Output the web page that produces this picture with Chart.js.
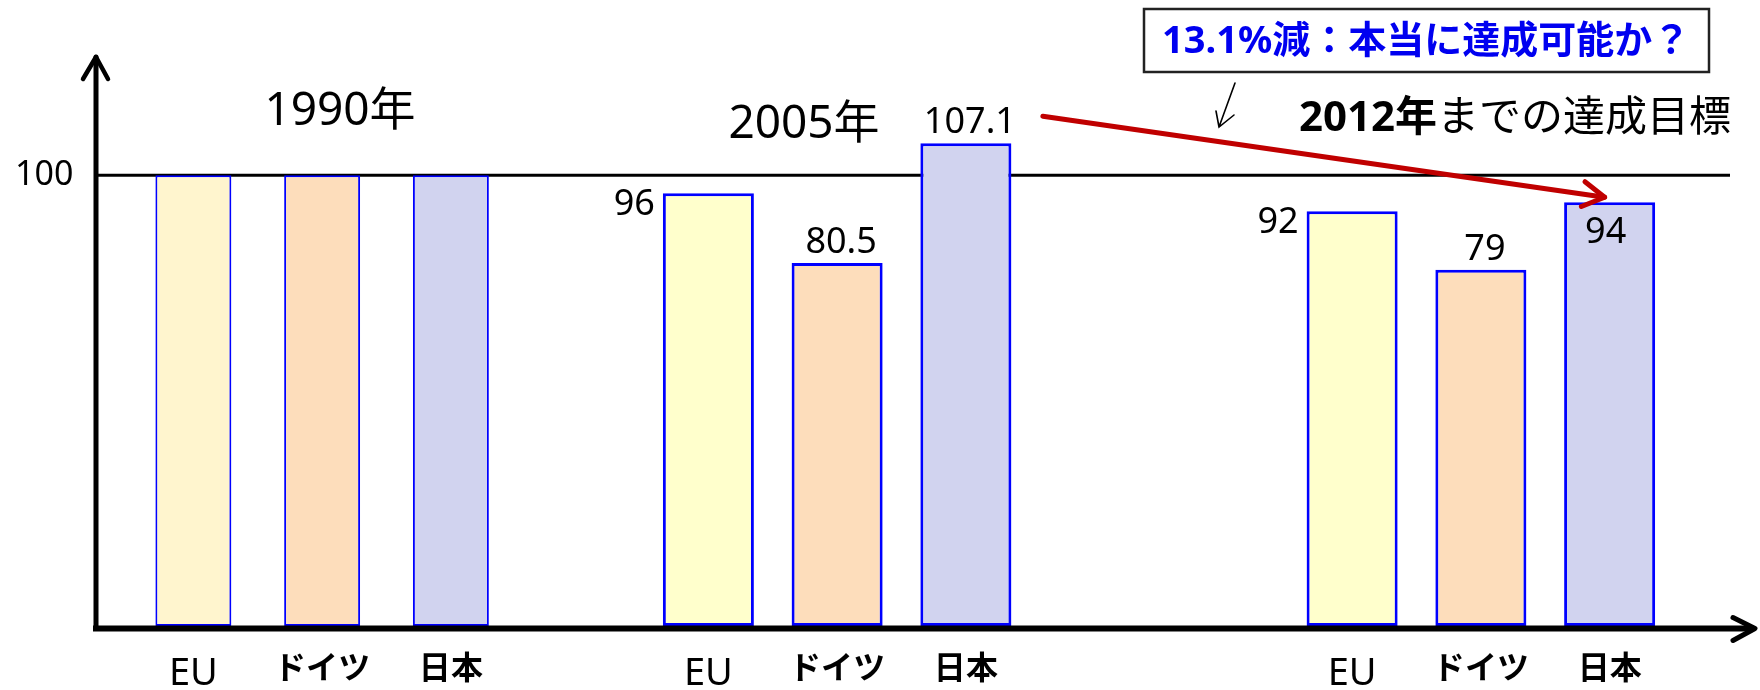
<!DOCTYPE html>
<html>
<head>
<meta charset="utf-8">
<script src="https://cdn.jsdelivr.net/npm/chart.js@4.4.1/dist/chart.umd.min.js"></script>
<style>
html,body{margin:0;padding:0;background:#fff;}
#wrap{width:1760px;height:690px;position:relative;}
</style>
</head>
<body>
<div id="wrap"><canvas id="c"></canvas></div>
<script>
// ---------- data ----------
const categories = ['EU','ドイツ','日本','','EU','ドイツ','日本','','','EU','ドイツ','日本'];
const groupTitles = ['1990年','2005年','2012年','までの達成目標'];
const values1990 = [100, 100, 100];
const values2005 = [96, 80.5, 107.1];
const values2012 = [92, 79, 94];
const labels2005 = ['96', '80.5', '107.1'];
const labels2012 = ['92', '79', '94'];
const yTickValues = [100];
const calloutText = '13.1%減：本当に達成可能か？';

// ---------- layout / style ----------
const FONT = "'Noto Sans', 'Noto Sans CJK JP', sans-serif";
const groupStart = [0, 4, 9];
function place(vals, start) {
  const arr = categories.map(() => null);
  vals.forEach((v, i) => { arr[start + i] = v; });
  return arr;
}
const colors1990 = place(['#FFF5CE', '#FDDDBB', '#D1D3EF'], groupStart[0]);
const colors2005 = place(['#FFFFCC', '#FDDDBB', '#D1D3EF'], groupStart[1]);
const colors2012 = place(['#FFFFCC', '#FDDDBB', '#D1D3EF'], groupStart[2]);
const labelModes = {
  1: ['left', 'above', 'above'],
  2: ['left', 'above', 'inside']
};
const valueTexts = {1: labels2005, 2: labels2012};

const overlay = {
  id: 'overlay',
  beforeDatasetsDraw(chart) {
    const ctx = chart.ctx, ca = chart.chartArea, y = chart.scales.y;
    const axX = ca.left - 33;
    const y100 = y.getPixelForValue(yTickValues[0]);
    ctx.save();
    ctx.strokeStyle = '#000';
    ctx.lineWidth = 3;
    ctx.beginPath();
    ctx.moveTo(axX, y100);
    ctx.lineTo(chart.width - 30, y100);
    ctx.stroke();
    ctx.restore();
  },
  afterDatasetsDraw(chart) {
    const ctx = chart.ctx, ca = chart.chartArea;
    const axX = ca.left - 33;
    const axY = ca.bottom + 2.5;
    ctx.save();
    ctx.strokeStyle = '#000';
    ctx.lineCap = 'round';
    ctx.lineJoin = 'round';
    // y axis with arrow
    ctx.lineWidth = 5;
    ctx.beginPath();
    ctx.moveTo(axX, axY);
    ctx.lineTo(axX, 57);
    ctx.stroke();
    ctx.lineWidth = 4.5;
    ctx.beginPath();
    ctx.moveTo(axX - 13, 79);
    ctx.lineTo(axX, 57);
    ctx.lineTo(axX + 12, 79);
    ctx.stroke();
    // x axis with arrow
    ctx.lineCap = 'butt';
    ctx.lineWidth = 6;
    ctx.beginPath();
    ctx.moveTo(axX - 3, axY);
    ctx.lineTo(chart.width - 6, axY);
    ctx.stroke();
    ctx.lineCap = 'round';
    ctx.lineWidth = 5;
    ctx.beginPath();
    ctx.moveTo(chart.width - 27, axY - 11);
    ctx.lineTo(chart.width - 5, axY);
    ctx.lineTo(chart.width - 27, axY + 12);
    ctx.stroke();

    // value labels
    ctx.fillStyle = '#000';
    ctx.font = '36px ' + FONT;
    [1, 2].forEach(di => {
      const meta = chart.getDatasetMeta(di);
      const start = groupStart[di];
      labelModes[di].forEach((mode, k) => {
        const el = meta.data[start + k];
        const txt = valueTexts[di][k];
        if (mode === 'left') {
          ctx.textAlign = 'right'; ctx.textBaseline = 'alphabetic';
          ctx.fillText(txt, el.x - el.width / 2 - 8, el.y + 22);
        } else if (mode === 'above') {
          ctx.textAlign = 'center'; ctx.textBaseline = 'alphabetic';
          ctx.fillText(txt, el.x + 4, el.y - 10);
        } else {
          ctx.textAlign = 'center'; ctx.textBaseline = 'alphabetic';
          ctx.fillText(txt, el.x - 4, el.y + 41);
        }
      });
    });
    ctx.restore();
  },
  afterDraw(chart) {
    const ctx = chart.ctx;
    ctx.save();
    // group titles
    ctx.fillStyle = '#000';
    ctx.textBaseline = 'middle';
    ctx.textAlign = 'center';
    ctx.font = '46px ' + FONT;
    ctx.fillText(groupTitles[0], 340, 112);
    ctx.fillText(groupTitles[1], 804, 125);
    ctx.textAlign = 'left';
    ctx.font = 'bold 42px ' + FONT;
    ctx.fillText(groupTitles[2], 1299, 119);
    const w = ctx.measureText(groupTitles[2]).width;
    ctx.font = '42px ' + FONT;
    ctx.fillText(groupTitles[3], 1299 + w, 119);

    // callout box
    ctx.strokeStyle = '#222';
    ctx.lineWidth = 2.5;
    ctx.strokeRect(1144, 9, 565, 63);
    ctx.fillStyle = '#0000F0';
    ctx.font = 'bold 38px ' + FONT;
    ctx.textAlign = 'left';
    ctx.fillText(calloutText, 1162, 42);

    // small pointer arrow
    ctx.strokeStyle = '#000';
    ctx.lineWidth = 1.6;
    ctx.lineCap = 'round';
    ctx.beginPath();
    ctx.moveTo(1235, 83);
    ctx.lineTo(1219, 127);
    ctx.moveTo(1216, 111);
    ctx.lineTo(1219, 127);
    ctx.lineTo(1234, 115);
    ctx.stroke();

    // red arrow from 2005 Japan to 2012 Japan
    const m1 = chart.getDatasetMeta(1).data[groupStart[1] + 2];
    const m2 = chart.getDatasetMeta(2).data[groupStart[2] + 2];
    const x0 = m1.x + 77, y0 = m1.y - 27;
    const x1 = m2.x - 5, y1 = m2.y - 5;
    const ang = Math.atan2(y1 - y0, x1 - x0);
    ctx.strokeStyle = '#C00000';
    ctx.lineWidth = 5;
    ctx.lineCap = 'round';
    ctx.lineJoin = 'round';
    ctx.beginPath();
    ctx.moveTo(x0, y0);
    ctx.lineTo(x1, y1);
    ctx.stroke();
    const L = 25, a = Math.PI / 6;
    ctx.beginPath();
    ctx.moveTo(x1 - L * Math.cos(ang - a), y1 - L * Math.sin(ang - a));
    ctx.lineTo(x1, y1);
    ctx.lineTo(x1 - L * Math.cos(ang + a), y1 - L * Math.sin(ang + a));
    ctx.stroke();
    ctx.restore();
  }
};

new Chart(document.getElementById('c'), {
  type: 'bar',
  data: {
    labels: categories,
    datasets: [
      {label: '1990年', data: place(values1990, groupStart[0]), backgroundColor: colors1990,
       borderColor: '#0000FF', borderWidth: 2, borderSkipped: false, grouped: false,
       categoryPercentage: 1, barPercentage: 0.59},
      {label: '2005年', data: place(values2005, groupStart[1]), backgroundColor: colors2005,
       borderColor: '#0000FF', borderWidth: 3, borderSkipped: false, grouped: false,
       categoryPercentage: 1, barPercentage: 0.707},
      {label: '2012年', data: place(values2012, groupStart[2]), backgroundColor: colors2012,
       borderColor: '#0000FF', borderWidth: 3, borderSkipped: false, grouped: false,
       categoryPercentage: 1, barPercentage: 0.707}
    ]
  },
  options: {
    responsive: true,
    maintainAspectRatio: false,
    animation: false,
    layout: {padding: {left: 15, right: 86, top: 85, bottom: 0}},
    plugins: {legend: {display: false}, title: {display: false}, tooltip: {enabled: false}},
    scales: {
      x: {
        grid: {display: false, drawTicks: false},
        border: {display: false},
        afterFit: (s) => { s.height = 64; },
        ticks: {
          autoSkip: false, maxRotation: 0, padding: 25, color: '#000',
          font: (c) => {
            const lab = c.tick ? c.tick.label : '';
            return lab === 'EU' ? {size: 38, family: FONT, weight: 'normal'}
                                : {size: 32, family: FONT, weight: 'bold'};
          }
        }
      },
      y: {
        min: 0, max: 120,
        grid: {display: false, drawTicks: false},
        border: {display: false},
        afterFit: (s) => { s.width = 114; },
        afterBuildTicks: (s) => { s.ticks = yTickValues.map(v => ({value: v})); },
        ticks: {padding: 4, crossAlign: 'far', color: '#000', font: {size: 34, family: FONT}}
      }
    }
  },
  plugins: [overlay]
});
</script>
</body>
</html>
